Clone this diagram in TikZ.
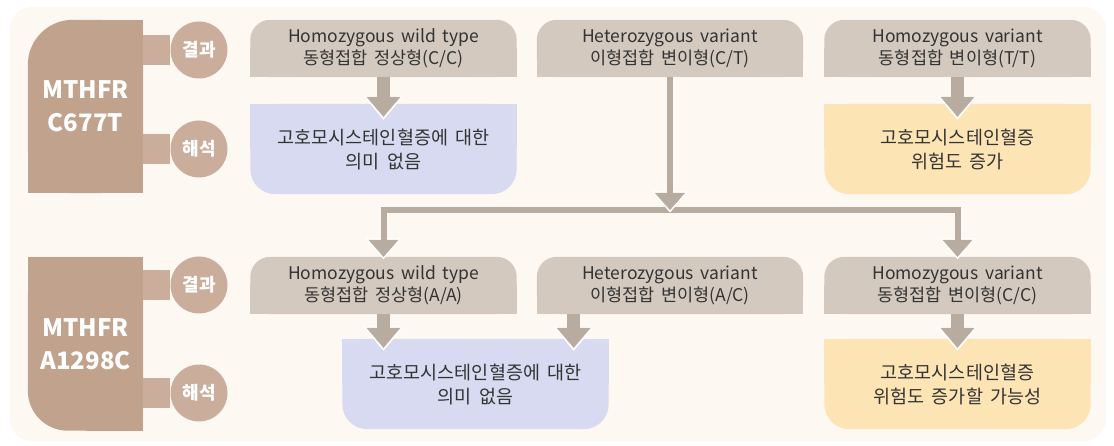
\documentclass[tikz,border=0pt]{standalone}
\usepackage{fontspec}
\setmainfont[WordSpace=1.7]{Noto Sans CJK KR}
\usetikzlibrary{arrows.meta,backgrounds}
\definecolor{paper}{HTML}{FDF8F2}
\definecolor{tabbrown}{HTML}{C1A28C}
\definecolor{dotbrown}{HTML}{CAAE9B}
\definecolor{headgray}{HTML}{D3C9BF}
\definecolor{flowgray}{HTML}{B8ACA1}
\definecolor{nilblue}{HTML}{D7DAF0}
\definecolor{riskyellow}{HTML}{FDE4B5}
\definecolor{inkgray}{HTML}{333333}
\begin{document}
\begin{tikzpicture}[x=1pt,y=-1pt,
	tab/.style={minimum width=115pt,minimum height=173pt,inner sep=0pt,align=center,
	text=white,font=\fontsize{24}{33}\selectfont\bfseries},
	dot/.style={circle,fill=dotbrown,minimum size=57pt,inner sep=0pt,text=white,
	font=\fontsize{18}{20}\selectfont\bfseries},
	head/.style={minimum width=266pt,minimum height=57pt,inner sep=0pt,align=center,
	text=inkgray,font=\fontsize{17.5}{22}\selectfont},
	note/.style={minimum width=266pt,minimum height=90pt,inner sep=0pt,align=center,
	text=inkgray,font=\fontsize{18.5}{24}\selectfont},
	bar/.style={draw=dotbrown,line width=30pt},
	fatflow/.style={draw=flowgray,line width=13pt,-{Triangle[width=34pt,length=20pt,line width=0.5pt]},
	preaction={draw=white,line width=13pt,shorten >=-3pt,-{Triangle[width=40pt,length=24pt,line width=0.5pt]}}},
	thinflow/.style={draw=flowgray,line width=6pt,-{Triangle[width=30pt,length=17pt,line width=0.5pt]},
	preaction={draw=white,line width=6pt,shorten >=-2.5pt,-{Triangle[width=36pt,length=21pt,line width=0.5pt]}}}]
\useasboundingbox (0,0) rectangle (1114,446);

\node[tab] (g1) at (85.5,106.5) {MTHFR\\C677T};
\node[tab] (g2) at (85.5,344) {MTHFR\\A1298C};
\node[dot] (r11) at (199,50) {결과};
\node[dot] (r12) at (199,149) {해석};
\node[dot] (r21) at (199,285) {결과};
\node[dot] (r22) at (199,393) {해석};

\node[head] (h11) at (383.5,48.5) {Homozygous wild type\\동형접합 정상형(C/C)};
\node[head] (h12) at (670,48.5) {Heterozygous variant\\이형접합 변이형(C/T)};
\node[head] (h13) at (957.5,48.5) {Homozygous variant\\동형접합 변이형(T/T)};
\node[head] (h21) at (383.5,285.5) {Homozygous wild type\\동형접합 정상형(A/A)};
\node[head] (h22) at (670,285.5) {Heterozygous variant\\이형접합 변이형(A/C)};
\node[head] (h23) at (957.5,285.5) {Homozygous variant\\동형접합 변이형(C/C)};

\node[note] (b11) at (383.5,149) {고호모시스테인혈증에 대한\\의미 없음};
\node[note] (b13) at (957.5,149) {고호모시스테인혈증\\위험도 증가};
\node[note] (b21) at (475.5,384) {고호모시스테인혈증에 대한\\의미 없음};
\node[note] (b23) at (957.5,384) {고호모시스테인혈증\\위험도 증가할 가능성};

\begin{scope}[on background layer]
\fill[white] (0,0) rectangle (1114,446);
\fill[paper,rounded corners=22pt] (10,7) rectangle (1106,441);
\fill[tabbrown,rounded corners=45pt] (g1.south west) rectangle (g1.north east);
\fill[tabbrown] (g1.west) rectangle (g1.south east);
\fill[tabbrown] (g1.north) rectangle (g1.east);
\fill[tabbrown,rounded corners=40pt] (g2.south west) rectangle (g2.north east);
\fill[tabbrown] (g2.north west) rectangle (g2.east);
\fill[tabbrown] (g2.south) rectangle (g2.east);
\foreach \r/\g in {r11/g1,r12/g1,r21/g2,r22/g2}
	\draw[bar] (\g.east |- \r) -- (\r);
\foreach \n in {h11,h12,h13,h21,h22,h23} {
	\fill[headgray,rounded corners=20pt] (\n.south west) rectangle (\n.north east);
	\fill[headgray] (\n.west) rectangle (\n.south east);
}
\foreach \n/\c in {b11/nilblue,b13/riskyellow,b21/nilblue,b23/riskyellow} {
	\fill[\c,rounded corners=25pt] (\n.south west) rectangle (\n.north east);
	\fill[\c] (\n.north west) rectangle (\n.east);
}
\end{scope}

\path (h21.south |- b21.north) coordinate (t21);
\coordinate (t22) at ([xshift=-35pt]b21.north east);
\coordinate (split) at (670,210);

\draw[fatflow] (h11.south) -- ([yshift=-13pt]b11.north);
\draw[fatflow] (h13.south) -- ([yshift=-13pt]b13.north);
\draw[thinflow] (split) -| (h21.north);
\draw[thinflow] (split) -| (h23.north);
\draw[thinflow] (h12.south) -- (split);
\draw[fatflow] (h21.south) -- ([yshift=-9pt]t21);
\draw[fatflow] (t22 |- h22.south) -- ([yshift=-9pt]t22);
\draw[fatflow] (h23.south) -- ([yshift=-9pt]b23.north);
\end{tikzpicture}
\end{document}
